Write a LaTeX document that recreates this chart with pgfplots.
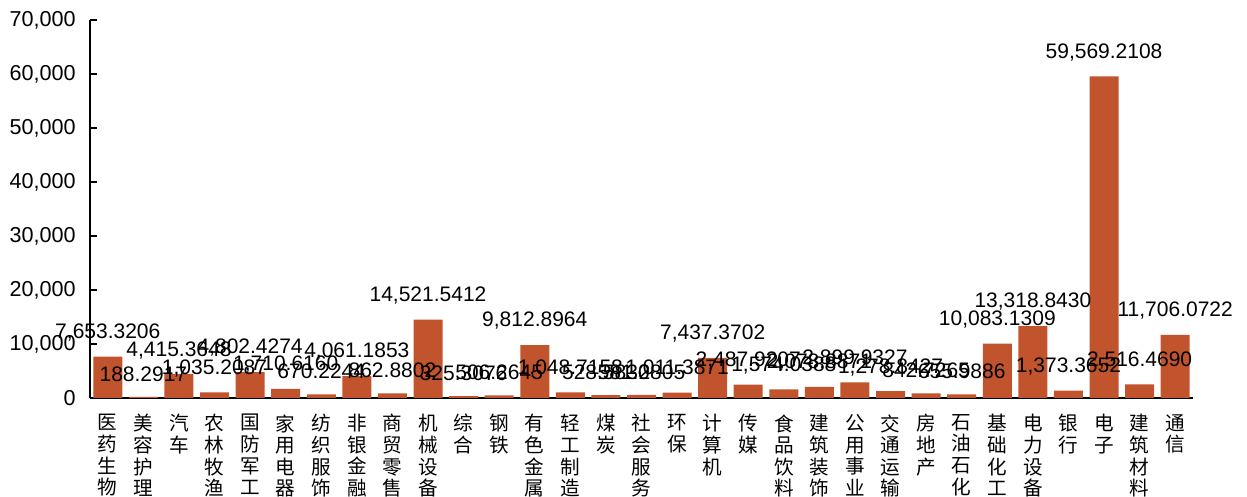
\documentclass[border=0pt]{standalone}
\usepackage{pgfplots}
\pgfplotsset{compat=1.18}
\usepackage{pgfplotstable}
\usepackage{fontspec}
\setmainfont{Liberation Sans}
\newfontfamily\cjk{Noto Sans CJK SC}
\definecolor{barc}{RGB}{193,84,44}
% vertical category names: one character per row at a fixed pitch
\newcommand\vc[1]{\hbox to 10pt{\hss#1\hss}}
\newcommand\vstack[1]{\vbox{\cjk\fontsize{9.8}{11}\selectfont\baselineskip=10.8pt\lineskiplimit=-20pt\lineskip=0pt #1}}

\pgfplotstableread{
x y label
0 7653.3206 7,653.3206
1 188.2917 188.2917
2 4415.3648 4,415.3648
3 1035.2087 1,035.2087
4 4802.4274 4,802.4274
5 1710.6160 1,710.6160
6 670.2244 670.2244
7 4061.1853 4,061.1853
8 862.8802 862.8802
9 14521.5412 14,521.5412
10 325.3076 325.3076
11 506.2645 506.2645
12 9812.8964 9,812.8964
13 1048.7158 1,048.7158
14 528.5830 528.5830
15 581.2805 581.2805
16 1011.3871 1,011.3871
17 7437.3702 7,437.3702
18 2487.9207 2,487.9207
19 1574.0388 1,574.0388
20 2078.8871 2,078.8871
21 2899.9327 2,899.9327
22 1278.8427 1,278.8427
23 842.7265 842.7265
24 655.9886 655.9886
25 10083.1309 10,083.1309
26 13318.8430 13,318.8430
27 1373.3652 1,373.3652
28 59569.2108 59,569.2108
29 2516.4690 2,516.4690
30 11706.0722 11,706.0722
}\industry

\begin{document}
\begin{tikzpicture}
\begin{axis}[
  at={(0,0)}, anchor=south west,
  scale only axis,
  width=551.5pt, height=189pt,
  xmin=-0.5, xmax=30.5,
  ymin=0, ymax=70000,
  axis x line*=bottom, axis y line*=left,
  axis line style={-, line width=0.9pt, black},
  clip=false,
  ytick={0,10000,...,70000},
  scaled y ticks=false,
  /pgf/number format/.cd, 1000 sep={,}, assume math mode=true,
  /pgfplots/.cd,
  yticklabel style={font=\fontsize{10.8}{12}\selectfont, inner sep=0pt, xshift=-7pt},
  ytick style={line width=0.8pt, black},
  tick align=inside,
  major tick length=3.5pt,
  minor tick length=3.5pt,
  xtick={0,...,30},
  xtick style={draw=none},
  minor xtick={0.5,1.5,...,30.5},
  minor x tick style={line width=0.8pt, black},
  xticklabels={
    \vstack{\vc{医}\vc{药}\vc{生}\vc{物}}, \vstack{\vc{美}\vc{容}\vc{护}\vc{理}}, \vstack{\vc{汽}\vc{车}},
    \vstack{\vc{农}\vc{林}\vc{牧}\vc{渔}}, \vstack{\vc{国}\vc{防}\vc{军}\vc{工}}, \vstack{\vc{家}\vc{用}\vc{电}\vc{器}},
    \vstack{\vc{纺}\vc{织}\vc{服}\vc{饰}}, \vstack{\vc{非}\vc{银}\vc{金}\vc{融}}, \vstack{\vc{商}\vc{贸}\vc{零}\vc{售}},
    \vstack{\vc{机}\vc{械}\vc{设}\vc{备}}, \vstack{\vc{综}\vc{合}}, \vstack{\vc{钢}\vc{铁}},
    \vstack{\vc{有}\vc{色}\vc{金}\vc{属}}, \vstack{\vc{轻}\vc{工}\vc{制}\vc{造}}, \vstack{\vc{煤}\vc{炭}},
    \vstack{\vc{社}\vc{会}\vc{服}\vc{务}}, \vstack{\vc{环}\vc{保}}, \vstack{\vc{计}\vc{算}\vc{机}},
    \vstack{\vc{传}\vc{媒}}, \vstack{\vc{食}\vc{品}\vc{饮}\vc{料}}, \vstack{\vc{建}\vc{筑}\vc{装}\vc{饰}},
    \vstack{\vc{公}\vc{用}\vc{事}\vc{业}}, \vstack{\vc{交}\vc{通}\vc{运}\vc{输}}, \vstack{\vc{房}\vc{地}\vc{产}},
    \vstack{\vc{石}\vc{油}\vc{石}\vc{化}}, \vstack{\vc{基}\vc{础}\vc{化}\vc{工}}, \vstack{\vc{电}\vc{力}\vc{设}\vc{备}},
    \vstack{\vc{银}\vc{行}}, \vstack{\vc{电}\vc{子}}, \vstack{\vc{建}\vc{筑}\vc{材}\vc{料}}, \vstack{\vc{通}\vc{信}}},
  xticklabel style={anchor=north, inner sep=0pt, yshift=-4.5pt},
  ybar, bar width=14.5pt,
  nodes near coords,
  point meta=explicit symbolic,
  every node near coord/.append style={font=\fontsize{10.5}{12}\selectfont, anchor=south, inner sep=0pt, yshift=7.5pt, text=black},
]
\addplot[fill=barc, draw=none] table[x=x, y=y, meta=label] {\industry};
\end{axis}
\pgfresetboundingbox
\path (-45pt,-49.5pt) rectangle (578.5pt,199pt);
\end{tikzpicture}
\end{document}
